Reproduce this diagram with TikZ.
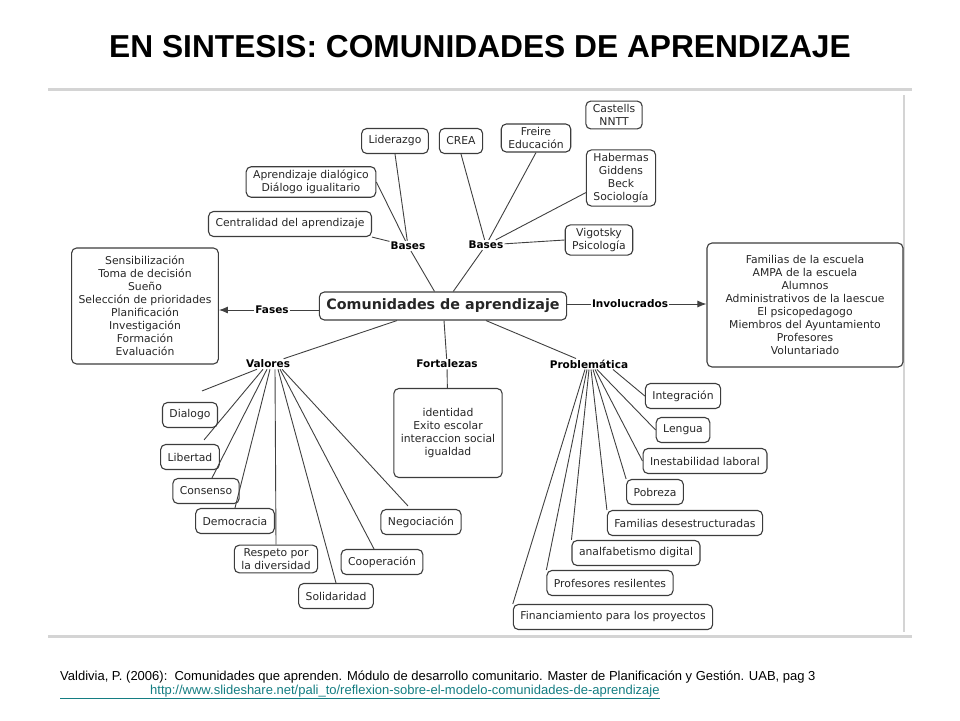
\documentclass[tikz,border=0pt]{standalone}
\usepackage{fontspec}
\setmainfont{DejaVu Sans}
\newfontfamily\titlefont{Liberation Sans}
\newfontfamily\footfont{Liberation Sans}
\usetikzlibrary{arrows.meta, calc}
\definecolor{boxline}{RGB}{60,60,60}
\definecolor{linkcol}{RGB}{20,125,130}
\definecolor{framecol}{RGB}{212,212,212}

\begin{document}
\begin{tikzpicture}[x=1pt, y=-1pt,
    box/.style={draw=boxline, line width=1.1pt, rounded corners=5pt,
                align=center, font=\fontsize{10.8}{13}\selectfont,
                inner xsep=7pt, minimum height=25pt, text=black!85},
    lbl/.style={font=\fontsize{10.5}{12}\selectfont\bfseries, inner sep=1pt},
    link/.style={draw=black!75, line width=0.9pt},
    arrow/.style={link, -{Latex[length=9pt,width=7pt]}}
  ]
  \useasboundingbox (0,0) rectangle (960,720);

  % title and frame of the picture
  \node (title) at (480,47) {\titlefont\bfseries\fontsize{31.7}{34}\selectfont EN SINTESIS: COMUNIDADES DE APRENDIZAJE};
  \draw[framecol, line width=3pt] (48,89) -- (912,89);
  \draw[framecol, line width=3pt] (48,636) -- (912,636);
  \draw[framecol, line width=1.5pt] (904,95) -- (904,632);

  % centre
  \node[box, font=\fontsize{14.3}{16}\selectfont\bfseries, minimum width=245pt, minimum height=28pt] (comun) at (443,306) {Comunidades de aprendizaje};

  % bases
  \node[lbl] (basesA) at (408,246) {Bases};
  \node[lbl] (basesB) at (486,245) {Bases};
  \node[box] (lider)       at (395,141) {Liderazgo};
  \node[box] (crea)        at (461,141) {CREA};
  \node[box] (freire)      at (536,138) {Freire\\Educación};
  \node[box] (castells)    at (614,115) {Castells\\NNTT};
  \node[box] (habermas)    at (621,178) {Habermas\\Giddens\\Beck\\Sociología};
  \node[box] (vigotsky)    at (599,240) {Vigotsky\\Psicología};
  \node[box] (dialogico)   at (311,182) {Aprendizaje dialógico\\Diálogo igualitario};
  \node[box] (centralidad) at (290,224) {Centralidad del aprendizaje};

  % fases / involucrados
  \node[lbl] (fases) at (272,310) {Fases};
  \node[box, minimum width=145pt, minimum height=116pt] (fasesbox) at (145,306)
    {Sensibilización\\Toma de decisión\\Sueño\\Selección de prioridades\\Planificación\\Investigación\\Formación\\Evaluación};
  \node[lbl] (invol) at (630,304) {Involucrados};
  \node[box, minimum width=196pt, minimum height=124pt] (involbox) at (805,305)
    {Familias de la escuela\\AMPA de la escuela\\Alumnos\\Administrativos de la laescue\\El psicopedagogo\\Miembros del Ayuntamiento\\Profesores\\Voluntariado};

  % valores, fortalezas, problematica
  \node[lbl] (valores)    at (268,364) {Valores};
  \node[lbl] (fortalezas) at (447,364) {Fortalezas};
  \node[lbl] (problem)    at (589,364) {Problemática};
  \node[box, minimum width=107pt, minimum height=89pt] (fortbox) at (448,433)
    {identidad\\Exito escolar\\interaccion social\\igualdad};

  \node[box] (dialogo)     at (190,415) {Dialogo};
  \node[box] (libertad)    at (190,457) {Libertad};
  \node[box] (consenso)    at (206,491) {Consenso};
  \node[box] (democracia)  at (235,521) {Democracia};
  \node[box] (respeto)     at (276,559) {Respeto por\\la diversidad};
  \node[box] (solidaridad) at (336,596) {Solidaridad};
  \node[box] (cooperacion) at (382,562) {Cooperación};
  \node[box] (negociacion) at (421,522) {Negociación};

  \node[box] (integracion) at (683,396) {Integración};
  \node[box] (lengua)      at (683,430) {Lengua};
  \node[box] (inestab)     at (705,461) {Inestabilidad laboral};
  \node[box] (pobreza)     at (655,492) {Pobreza};
  \node[box] (familias)    at (685,523) {Familias desestructuradas};
  \node[box] (analfab)     at (636,553) {analfabetismo digital};
  \node[box] (profes)      at (610,583) {Profesores resilentes};
  \node[box] (financ)      at (613,617) {Financiamiento para los proyectos};

  % connectors
  \draw[link] (basesA) -- (comun);
  \draw[link] (basesB) -- (comun);
  \draw[link] (basesA) -- (lider.south);
  \draw[link] (basesA) -- (dialogico.east);
  \draw[link] (basesA) -- (centralidad.south east);
  \draw[link] (basesB) -- (crea.south);
  \draw[link] (basesB) -- (freire.south);
  \draw[link] (basesB) -- ($(habermas.south west)+(0,-14)$);
  \draw[link] (basesB) -- (vigotsky.west);

  \draw[link] (fases) -- (fases -| comun.west);
  \draw[arrow] (fases) -- (fases -| fasesbox.east);
  \draw[link] (invol) -- (invol -| comun.east);
  \draw[arrow] (invol) -- (invol -| involbox.west);

  \draw[link] ($(comun.south)+(-46,0)$) -- (valores);
  \draw[link] (comun) -- (fortalezas);
  \draw[link] (fortalezas) -- (fortbox);
  \draw[link] ($(comun.south)+(43,0)$) -- (problem);

  \draw[link] ($(valores.south)+(-11,0)$) -- ($(dialogo.north)+(12,-11)$);
  \draw[link] ($(valores.south)+(-5,0)$) -- ($(libertad.north)+(14,-4)$);
  \draw[link] ($(valores.south)+(-1,0)$) -- ($(consenso.north)+(6,0)$);
  \draw[link] ($(valores.south)+(2,0)$) -- (democracia.north);
  \draw[link] ($(valores.south)+(7,0)$) -- (respeto.north);
  \draw[link] ($(valores.south)+(10,0)$) -- (solidaridad.north);
  \draw[link] ($(valores.south)+(12,0)$) -- ($(cooperacion.north)+(-8,0)$);
  \draw[link] ($(valores.south)+(14,0)$) -- ($(negociacion.north)+(-13,-3)$);

  \draw[link] ($(problem.south)+(24,0)$) -- (integracion.west);
  \draw[link] ($(problem.south)+(8,0)$) -- (lengua.west);
  \draw[link] ($(problem.south)+(6,0)$) -- (inestab.west);
  \draw[link] ($(problem.south)+(4,0)$) -- (pobreza.north west);
  \draw[link] ($(problem.south)+(2,0)$) -- (familias.north west);
  \draw[link] ($(problem.south)+(0,0)$) -- (analfab.north west);
  \draw[link] ($(problem.south)+(-2,0)$) -- (profes.north west);
  \draw[link] ($(problem.south)+(-4,0)$) -- (financ.north west);

  % source
  \node[anchor=base west, inner sep=0pt] (source) at (60,680)
    {\footfont\fontsize{13}{15}\selectfont Valdivia, P. (2006):\ \ Comunidades que aprenden. Módulo de desarrollo comunitario. Master de Planificación y Gestión. UAB, pag 3};
  \node[anchor=base west, inner sep=0pt, text=linkcol] (url) at (60,694)
    {\footfont\fontsize{13}{15}\selectfont\underline{\hspace*{90pt}http://www.slideshare.net/pali\_to/reflexion-sobre-el-modelo-comunidades-de-aprendizaje}};
\end{tikzpicture}
\end{document}
